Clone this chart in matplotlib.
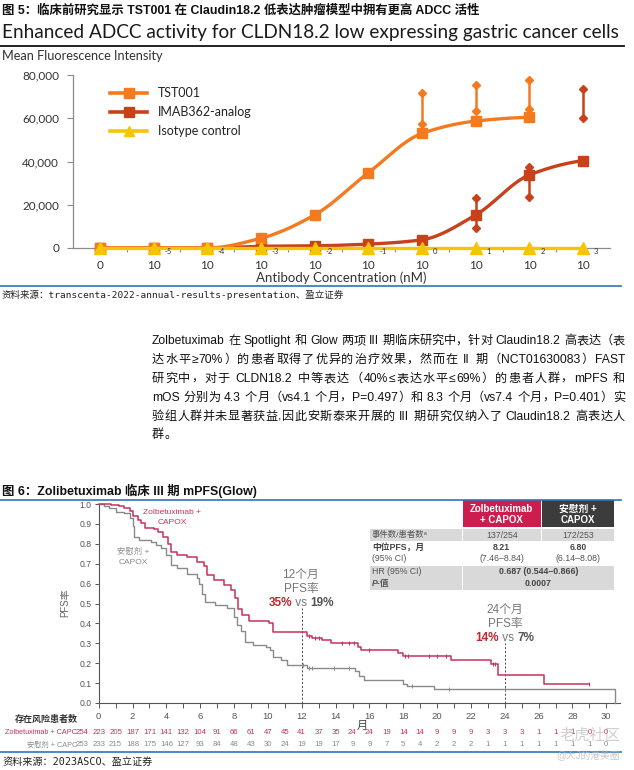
import re
import numpy as np
import matplotlib
matplotlib.use('Agg')
import matplotlib.pyplot as plt
from matplotlib.patches import Rectangle
from matplotlib.lines import Line2D
from matplotlib.font_manager import FontProperties
from matplotlib.ticker import FuncFormatter, FixedLocator
from matplotlib.transforms import blended_transform_factory

# ---------------- data: figure 5 (ADCC) ----------------
conc_labels = ['0', '10', '10', '10', '10', '10', '10', '10', '10', '10']
conc_exps = ['', '-5', '-4', '-3', '-2', '-1', '0', '1', '2', '3']
mfi_ticks = [0, 20000, 40000, 60000, 80000]
tst001_mfi = [0, 0, 0, 4500, 15300, 34800, 53000, 58700, 60500]
imab_mfi = [0, 0, 0, 800, 1000, 1800, 3800, 15300, 33800, 40400]
isotype_mfi = [0, 0, 0, 0, 0, 0, 0, 0, 0, 0]
tst001_rep_idx = [6, 7, 8]
tst001_rep_lo = [57300, 63500, 64100]
tst001_rep_hi = [71500, 75400, 77700]
imab_rep_idx = [7, 8, 9]
imab_rep_lo = [9100, 23700, 60000]
imab_rep_hi = [23000, 37300, 73400]
series_names = ['TST001', 'IMAB362-analog', 'Isotype control']

# ---------------- data: figure 6 (KM, GLOW) ----------------
zol_t = [0, 0.7, 1.2, 1.5, 1.85, 2.05, 2.3, 2.5, 2.75, 3.25, 3.5, 3.8, 4.1, 4.3, 4.6, 5.2,
         5.8, 6.2, 6.4, 6.8, 7.4, 7.8, 8.05, 8.25, 8.45, 8.9, 10.05, 10.3, 12.3, 12.6, 13.2,
         13.7, 15.3, 15.5, 17.7, 18.0, 20.8, 23.2, 23.6, 26.3, 29.0]
zol_s = [1.0, 0.995, 0.99, 0.98, 0.965, 0.94, 0.92, 0.905, 0.88, 0.875, 0.86, 0.835, 0.80,
         0.76, 0.745, 0.735, 0.71, 0.69, 0.645, 0.62, 0.595, 0.57, 0.53, 0.47, 0.44, 0.41,
         0.40, 0.355, 0.335, 0.325, 0.318, 0.30, 0.283, 0.265, 0.25, 0.237, 0.216, 0.195,
         0.143, 0.094, 0.094]
pbo_t = [0, 0.3, 0.6, 1.0, 1.5, 1.85, 2.0, 2.1, 2.4, 3.1, 3.4, 3.7, 4.0, 4.3, 4.6, 5.2, 5.8,
         5.95, 6.1, 6.3, 6.9, 7.6, 8.0, 8.2, 8.4, 8.65, 9.1, 9.9, 10.1, 10.3, 10.8, 11.1, 12.3,
         15.15, 15.4, 15.7, 18.0, 18.2, 19.8, 30.5]
pbo_s = [1.0, 0.99, 0.978, 0.962, 0.953, 0.93, 0.89, 0.835, 0.82, 0.81, 0.795, 0.778, 0.745,
         0.695, 0.678, 0.65, 0.627, 0.60, 0.55, 0.51, 0.493, 0.478, 0.43, 0.39, 0.36, 0.308,
         0.292, 0.283, 0.266, 0.233, 0.216, 0.19, 0.175, 0.16, 0.135, 0.117, 0.095, 0.086,
         0.069, 0.0]
zol_censor = [12.4, 12.8, 13.0, 14.4, 14.8, 15.1, 16.0, 18.1, 18.3, 19.5, 20.0, 20.5, 23.3, 23.45, 29.0]
pbo_censor = [12.1, 12.4, 12.6, 13.9, 14.8, 18.5, 20.7, 24.0]
landmark_months = [12, 24]
landmark_top = [0.476, 0.30]
risk_zol = [254, 223, 205, 187, 171, 141, 132, 104, 91, 66, 61, 47, 45, 41, 37, 35, 24, 24, 19,
            14, 14, 9, 9, 9, 3, 3, 3, 1, 1, 1, 0, 0]
risk_pbo = [253, 233, 215, 188, 175, 146, 127, 93, 84, 48, 43, 30, 24, 19, 19, 17, 9, 9, 7, 5,
            4, 2, 2, 2, 1, 1, 1, 1, 1, 1, 1, 0]

para_lines = [
    'Zolbetuximab 在 Spotlight 和 Glow 两项 III 期临床研究中，针对 Claudin18.2 高表达（表',
    '达水平≥70%）的患者取得了优异的治疗效果，然而在 II 期（NCT01630083）FAST',
    '研究中，对于 CLDN18.2 中等表达（40%≤表达水平≤69%）的患者人群，mPFS 和',
    'mOS 分别为 4.3 个月（vs4.1 个月，P=0.497）和 8.3 个月（vs7.4 个月，P=0.401）实',
    '验组人群并未显著获益,因此安斯泰来开展的 III 期研究仅纳入了 Claudin18.2 高表达人',
    '群。',
]

# ---------------- setup ----------------
W, H = 634, 770
plt.rcParams['font.family'] = ['Lato', 'Noto Sans CJK SC', 'DejaVu Sans']
fig = plt.figure(figsize=(W / 100, H / 100), dpi=100)
fig.patch.set_facecolor('white')
R = fig.canvas.get_renderer()

MIX = ['Liberation Sans', 'Noto Sans CJK SC', 'DejaVu Sans']
MONO = ['DejaVu Sans Mono', 'Noto Sans CJK SC']
LATO = ['Lato', 'Noto Sans CJK SC', 'DejaVu Sans']

C_TST = '#F47A20'
C_IMAB = '#C8411B'
C_ISO = '#F7C500'
RED = '#C8325A'
GRAY = '#8A8A8A'
BLUE = '#2F74B5'


def fx(p):
    return p / W


def fy(p):
    return 1 - p / H


def ptext(x, y, s, **kw):
    return fig.text(fx(x), fy(y), s, **kw)


def fit(t, target):
    for _ in range(3):
        w = t.get_window_extent(R).width
        t.set_fontsize(t.get_fontsize() * target / w)
    return t


def hline(x0, x1, y, color, lw):
    fig.add_artist(Line2D([fx(x0), fx(x1)], [fy(y), fy(y)], color=color, lw=lw,
                          transform=fig.transFigure))


def twidth(s, prop):
    if s.isspace():
        a = R.get_text_width_height_descent('a' + s + 'a', prop, ismath=False)[0]
        b = R.get_text_width_height_descent('aa', prop, ismath=False)[0]
        return a - b
    return R.get_text_width_height_descent(s, prop, ismath=False)[0]


TOK = re.compile(r'[A-Za-z0-9.=%\-]+|\s+|.')


def line_tokens(s, prop):
    toks = TOK.findall(s)
    return toks, [twidth(t, prop) for t in toks]


def place_line(s, x0, x1, ybase, prop, color, justify=True):
    toks, ws = line_tokens(s, prop)
    gap = 0.0
    if justify and len(toks) > 1:
        gap = ((x1 - x0) - sum(ws)) / (len(toks) - 1)
    x = x0
    for t, w in zip(toks, ws):
        if not t.isspace():
            fig.text(fx(x), fy(ybase), t, fontproperties=prop, color=color,
                     ha='left', va='baseline')
        x += w + gap


def rich_center(parts, xc, y, fs):
    props = []
    for txt, col, wt in parts:
        props.append(FontProperties(family=MIX, size=fs, weight=wt))
    ws = [twidth(p[0], pr) for p, pr in zip(parts, props)]
    x = xc - sum(ws) / 2
    for (txt, col, wt), pr, w in zip(parts, props, ws):
        if not txt.isspace():
            fig.text(fx(x), fy(y), txt, fontproperties=pr, color=col, ha='left', va='center')
        x += w


def pchip(x, y, xs):
    x = np.asarray(x, float)
    y = np.asarray(y, float)
    h = np.diff(x)
    d = np.diff(y) / h
    m = np.zeros_like(y)
    for k in range(1, len(x) - 1):
        if d[k - 1] * d[k] > 0:
            w1 = 2 * h[k] + h[k - 1]
            w2 = h[k] + 2 * h[k - 1]
            m[k] = (w1 + w2) / (w1 / d[k - 1] + w2 / d[k])
    m[0] = 0.0
    m[-1] = d[-1] * 0.5
    idx = np.clip(np.searchsorted(x, xs, side='right') - 1, 0, len(x) - 2)
    hh = h[idx]
    tt = (xs - x[idx]) / hh
    h00 = 2 * tt ** 3 - 3 * tt ** 2 + 1
    h10 = tt ** 3 - 2 * tt ** 2 + tt
    h01 = -2 * tt ** 3 + 3 * tt ** 2
    h11 = tt ** 3 - tt ** 2
    return h00 * y[idx] + h10 * hh * m[idx] + h01 * y[idx + 1] + h11 * hh * m[idx + 1]


# ================= header of figure 5 =================
t = ptext(2, 11, '图 5：临床前研究显示 TST001 在 Claudin18.2 低表达肿瘤模型中拥有更高 ADCC 活性',
          family=MIX, weight='bold', fontsize=8, ha='left', va='center', color='#111111')
t2 = ptext(2, 32.5, 'Enhanced ADCC activity for CLDN18.2 low expressing gastric cancer cells',
           family=LATO, fontsize=16, ha='left', va='center', color='#1a1a1a')
fit(t2, 620)
hline(0, 624, 45.5, '#111111', 1.3)
t3 = ptext(2, 55.5, 'Mean Fluorescence Intensity', family=LATO, fontsize=8,
           ha='left', va='center', color='#333333')
fit(t3, 161)

# ================= chart 1 =================
ax1 = fig.add_axes([fx(73), fy(248), (610 - 73) / W, (248 - 75) / H])
ax1.set_xlim(-0.5, 9.5)
ax1.set_ylim(0, 80000)
for s in ['top', 'right']:
    ax1.spines[s].set_visible(False)
for s in ['left', 'bottom']:
    ax1.spines[s].set_color('#8c8c8c')
    ax1.spines[s].set_linewidth(0.9)
ax1.set_yticks(mfi_ticks)
ax1.yaxis.set_major_formatter(FuncFormatter(lambda v, p: f'{int(v):,}'))
ax1.tick_params(axis='y', length=4, width=0.8, color='#8c8c8c', pad=6,
                labelsize=8.5, labelcolor='#333333')
xpos = np.arange(len(conc_labels))
ax1.set_xticks(xpos)
ax1.set_xticklabels(conc_labels)
ax1.xaxis.set_minor_locator(FixedLocator(np.arange(0.5, 9.5, 1.0)))
ax1.tick_params(axis='x', which='major', length=0, pad=8.5, labelsize=8.5, labelcolor='#333333')
ax1.tick_params(axis='x', which='minor', length=3, width=0.8, color='#8c8c8c')
for e, xi in zip(conc_exps, xpos):
    if e:
        ax1.text(xi + 0.2, -1500, e, fontsize=5.5, ha='left', va='center',
                 color='#333333', clip_on=False, zorder=8)

# IMAB362 analog
xi = xpos[:len(imab_mfi)]
xs = np.linspace(xi[0], xi[-1], 400)
ax1.plot(xs, pchip(xi, imab_mfi, xs), color=C_IMAB, lw=2.4, clip_on=False, zorder=3)
ax1.plot(xi, imab_mfi, 's', ms=7.5, color=C_IMAB, clip_on=False, zorder=4)
ax1.vlines(imab_rep_idx, imab_rep_lo, imab_rep_hi, color=C_IMAB, lw=1.8, zorder=3)
ax1.plot(imab_rep_idx, imab_rep_lo, 'D', ms=4.5, color=C_IMAB, zorder=4)
ax1.plot(imab_rep_idx, imab_rep_hi, 'D', ms=4.5, color=C_IMAB, zorder=4)

# TST001
xi = xpos[:len(tst001_mfi)]
xs = np.linspace(xi[0], xi[-1], 400)
ax1.plot(xs, pchip(xi, tst001_mfi, xs), color=C_TST, lw=2.4, clip_on=False, zorder=5)
ax1.plot(xi, tst001_mfi, 's', ms=7.5, color=C_TST, clip_on=False, zorder=6)
ax1.vlines(tst001_rep_idx, tst001_rep_lo, tst001_rep_hi, color=C_TST, lw=1.8, zorder=5)
ax1.plot(tst001_rep_idx, tst001_rep_lo, 'D', ms=4.5, color=C_TST, zorder=6)
ax1.plot(tst001_rep_idx, tst001_rep_hi, 'D', ms=4.5, color=C_TST, zorder=6)

# isotype
ax1.plot(xpos, isotype_mfi, color=C_ISO, lw=2.4, marker='^', ms=8, clip_on=False, zorder=7)

# legend (manual)
leg_style = [(C_TST, 's'), (C_IMAB, 's'), (C_ISO, '^')]
for i, (name, (c, mk)) in enumerate(zip(series_names, leg_style)):
    yy = 93 + 19 * i
    fig.add_artist(Line2D([fx(110), fx(147)], [fy(yy), fy(yy)], color=c, lw=2.6,
                          transform=fig.transFigure))
    fig.add_artist(Line2D([fx(128.5)], [fy(yy)], color=c, marker=mk, ms=7,
                          transform=fig.transFigure))
    ptext(158, yy, name, family=LATO, fontsize=9, ha='left', va='center', color='#222222')

ptext(341.5, 278, 'Antibody Concentration (nM)', family=LATO, fontsize=9.5,
      ha='center', va='center', color='#333333')
hline(0, 621, 286, BLUE, 1.2)
t4 = ptext(2, 295, '资料来源：transcenta-2022-annual-results-presentation、盈立证券',
           family=MONO, fontsize=7.5, ha='left', va='center', color='#222222')
fit(t4, 339)

# ================= paragraph =================
pprop = FontProperties(family=MIX, size=9)
toks, ws = line_tokens(para_lines[0], pprop)
pfs = 9 * 473 / sum(ws)
pprop = FontProperties(family=MIX, size=pfs)
for i, ln in enumerate(para_lines):
    ycen = 340 + 18.8 * i
    place_line(ln, 152, 625, ycen + 4.3, pprop, '#111111', justify=(i < len(para_lines) - 1))

# ================= figure 6 header =================
t5 = ptext(2, 491, '图 6：Zolibetuximab 临床 III 期 mPFS(Glow)', family=MIX, weight='bold',
           fontsize=8, ha='left', va='center', color='#111111')
fit(t5, 254)
t.set_fontsize(t5.get_fontsize())
hline(0, 621, 499.5, BLUE, 1.2)

# ================= KM chart =================
PX_PER_MONTH = 16.92
ax2 = fig.add_axes([fx(98.7), fy(703), 30.8 * PX_PER_MONTH / W, 199 / H])
ax2.set_xlim(0, 30.8)
ax2.set_ylim(0, 1.0)
for s in ['top', 'right']:
    ax2.spines[s].set_visible(False)
for s in ['left', 'bottom']:
    ax2.spines[s].set_color('#555555')
    ax2.spines[s].set_linewidth(0.8)
months = np.arange(0, 31)
ax2.set_xticks(months)
ax2.set_xticklabels([str(m) if m % 2 == 0 else '' for m in months])
yt = np.round(np.arange(0, 1.01, 0.1), 1)
ax2.set_yticks(yt)
ax2.set_yticklabels([f'{v:.1f}' for v in yt])
ax2.tick_params(axis='x', length=3.5, width=0.7, color='#555555', pad=3,
                labelsize=6.8, labelcolor='#555555')
ax2.tick_params(axis='y', length=3, width=0.7, color='#555555', pad=2,
                labelsize=6.2, labelcolor='#555555')
for lbl in ax2.get_xticklabels() + ax2.get_yticklabels():
    lbl.set_family(MIX)

ax2.step(pbo_t, pbo_s, where='post', color=GRAY, lw=1.0, clip_on=False, zorder=3)
ax2.step(zol_t, zol_s, where='post', color=RED, lw=1.1, clip_on=False, zorder=4)


def surv_at(tt, ss, c):
    k = np.searchsorted(tt, c, side='right') - 1
    return np.asarray(ss)[k]


ax2.plot(zol_censor, [surv_at(zol_t, zol_s, c) for c in zol_censor], '|', ms=3.2,
         mew=0.7, color=RED, zorder=4)
ax2.plot(pbo_censor, [surv_at(pbo_t, pbo_s, c) for c in pbo_censor], '|', ms=3.2,
         mew=0.7, color=GRAY, zorder=3)
ax2.vlines(landmark_months, 0, landmark_top, colors='#444444', lw=0.7,
           linestyles=(0, (2, 2)), zorder=2)

ptext(65, 603, 'PFS率', family=MIX, fontsize=7, rotation=90, ha='center', va='center',
      color='#666666')
ptext(362, 726, '月', family=MIX, fontsize=8, ha='center', va='center', color='#444444')

ptext(172, 512.5, 'Zolbetuximab +', family=MIX, fontsize=6, ha='center', va='center', color=RED)
ptext(172, 522.5, 'CAPOX', family=MIX, fontsize=6, ha='center', va='center', color=RED)
ptext(133, 552, '安慰剂 +', family=MIX, fontsize=6, ha='center', va='center', color=GRAY)
ptext(133, 562, 'CAPOX', family=MIX, fontsize=6, ha='center', va='center', color=GRAY)

ptext(300, 575, '12个月', family=MIX, fontsize=8.5, ha='center', va='center', color='#777777')
ptext(301, 589, 'PFS率', family=MIX, fontsize=8.5, ha='center', va='center', color='#777777')
rich_center([('35%', '#C0282F', 'bold'), (' vs ', '#777777', 'normal'),
             ('19%', '#555555', 'bold')], 301, 603, 8.5)
ptext(505, 610, '24个月', family=MIX, fontsize=8.5, ha='center', va='center', color='#777777')
ptext(505, 623.5, 'PFS率', family=MIX, fontsize=8.5, ha='center', va='center', color='#777777')
rich_center([('14%', '#C0282F', 'bold'), (' vs ', '#777777', 'normal'),
             ('7%', '#555555', 'bold')], 505, 638, 8.5)

# numbers at risk
bt = blended_transform_factory(ax2.transData, fig.transFigure)
ptext(46, 719, '存在风险患者数', family=MIX, weight='bold', fontsize=6.5, ha='center',
      va='center', color='#333333')
ptext(77, 732, 'Zolbetuximab + CAPC', family=MIX, fontsize=5.2, ha='right', va='center', color=RED)
ptext(77, 745, '安慰剂 + CAPC', family=MIX, fontsize=5.2, ha='right', va='center', color=GRAY)
for k, v in enumerate(risk_zol):
    ax2.text(k - 1, fy(732), str(v), transform=bt, fontsize=5.6, family=MIX, ha='center',
             va='center', color=RED, clip_on=False)
for k, v in enumerate(risk_pbo):
    ax2.text(k - 1, fy(745), str(v), transform=bt, fontsize=5.6, family=MIX, ha='center',
             va='center', color=GRAY, clip_on=False)

# results table
def rect(x0, y0, x1, y1, c):
    fig.add_artist(Rectangle((fx(x0), fy(y1)), (x1 - x0) / W, (y1 - y0) / H,
                             transform=fig.transFigure, facecolor=c, edgecolor='none'))


TG = '#D9D9D9'
rect(463, 500, 540.5, 527, '#CC1E4E')
rect(542, 500, 614, 527, '#3C3C3C')
rect(370, 528.5, 461.5, 541, TG)
rect(463, 528.5, 540.5, 541, TG)
rect(542, 528.5, 614, 541, TG)
rect(370, 566, 461.5, 589.5, TG)
rect(463, 566, 614, 589.5, TG)

ptext(501.7, 508.5, 'Zolbetuximab', family=MIX, weight='bold', fontsize=7, ha='center',
      va='center', color='white')
ptext(501.7, 520, '+ CAPOX', family=MIX, weight='bold', fontsize=7, ha='center',
      va='center', color='white')
ptext(578, 508.5, '安慰剂 +', family=MIX, weight='bold', fontsize=7, ha='center',
      va='center', color='white')
ptext(578, 520, 'CAPOX', family=MIX, weight='bold', fontsize=7, ha='center',
      va='center', color='white')
TC = '#555555'
ptext(372, 535, '事件数/患者数ᵃ', family=MIX, fontsize=6, ha='left', va='center', color=TC)
ptext(501.7, 535, '137/254', family=MIX, fontsize=6.3, ha='center', va='center', color=TC)
ptext(578, 535, '172/253', family=MIX, fontsize=6.3, ha='center', va='center', color=TC)
ptext(372, 547.5, '中位PFS，月', family=MIX, weight='bold', fontsize=6.3, ha='left',
      va='center', color='#444444')
ptext(372, 558.5, '(95% CI)', family=MIX, fontsize=6.3, ha='left', va='center', color=TC)
ptext(501.7, 547.5, '8.21', family=MIX, weight='bold', fontsize=6.3, ha='center',
      va='center', color='#444444')
ptext(501.7, 558.5, '(7.46–8.84)', family=MIX, fontsize=6.3, ha='center', va='center', color=TC)
ptext(578, 547.5, '6.80', family=MIX, weight='bold', fontsize=6.3, ha='center',
      va='center', color='#444444')
ptext(578, 558.5, '(6.14–8.08)', family=MIX, fontsize=6.3, ha='center', va='center', color=TC)
ptext(372, 572, 'HR (95% CI)', family=MIX, fontsize=6.3, ha='left', va='center', color=TC)
ptext(372, 583, 'P-值', family=MIX, fontsize=6.3, style='italic', weight='bold', ha='left',
      va='center', color=TC)
ptext(538.5, 572, '0.687 (0.544–0.866)', family=MIX, weight='bold', fontsize=6.3,
      ha='center', va='center', color='#444444')
ptext(538.5, 583, '0.0007', family=MIX, weight='bold', fontsize=6.3, ha='center',
      va='center', color='#444444')

hline(0, 621, 751.5, BLUE, 1.2)
t6 = ptext(2, 762, '资料来源：2023ASCO、盈立证券', family=MONO, fontsize=7.5, ha='left',
           va='center', color='#222222')
fit(t6, 150)

# watermarks
ptext(590, 736, '老虎社区', family=MIX, fontsize=11, ha='center', va='center',
      color='#bbbbbb', alpha=0.7)
ptext(588, 756, '@大J的港美圈', family=MIX, fontsize=7, ha='center', va='center',
      color='#bbbbbb', alpha=0.8)

fig.savefig('out.png', dpi=100, facecolor='white')
